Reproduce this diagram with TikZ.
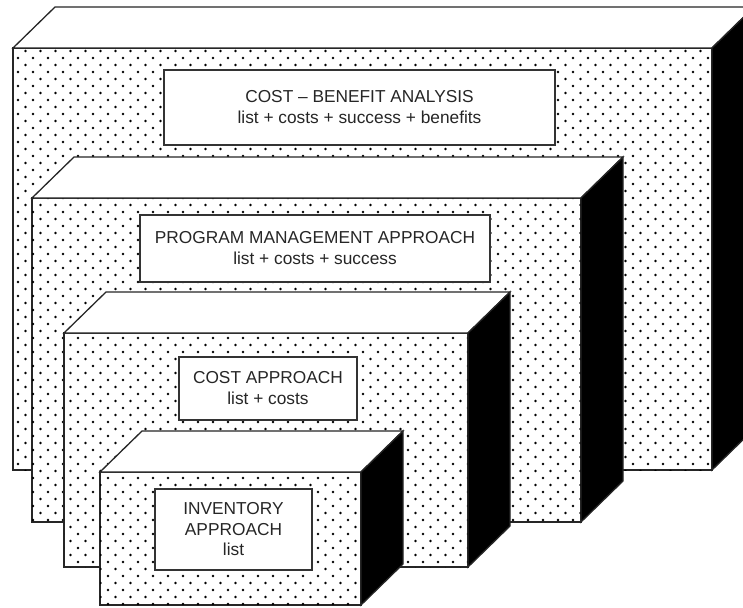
\documentclass[tikz,border=0pt]{standalone}
\usepackage{fontspec}
\setmainfont{Liberation Sans}

\tikzset{
  edge/.style={draw=black!85, line width=1.3pt, line join=miter},
  frontface/.style={rectangle, inner sep=0pt, outer sep=0pt, edge, fill=white},
  topface/.style={edge, fill=white},
  sideface/.style={edge, fill=black},
  screendot/.style={fill=black},
  tag/.style={rectangle, draw=black!80, line width=1.3pt, fill=white,
    inner sep=0pt, align=center, text=black!85,
    font=\fontsize{17.3}{21}\selectfont},
}

% staggered dot screen on a front face: node, first/last row, first/last column
\newcommand\dotscreen[5]{%
  \begin{scope}
    \clip (#1.south west) rectangle (#1.north east);
    \fill[screendot] \foreach \r in {#2,...,#3} {
      \foreach \c in {#4,...,#5} {
        ({\c*15 + mod(\r,2)*7.5 + 3}, {\r*7 + 2}) circle[radius=1.4]
      }
    };
  \end{scope}
}

% top and side faces drawn from the front face node
\newcommand\boxfaces[1]{%
  \path[topface] (#1.north west) -- ++(42,-41)
    -- ([shift={(42,-41)}]#1.north east) -- (#1.north east) -- cycle;
  \path[sideface] (#1.north east) -- ([shift={(42,-41)}]#1.north east)
    -- ([shift={(42,-41)}]#1.south east) -- (#1.south east) -- cycle;
}

\begin{document}
\begin{tikzpicture}[x=1pt, y=-1pt]
  \path[use as bounding box] (0,0) rectangle (743,607);
  \clip (0,0) rectangle (743,607);

  % outermost box
  \node[frontface, minimum width=699pt, minimum height=422pt] (b1) at (362.5,259) {};
  \dotscreen{b1}{6}{67}{0}{48}
  \boxfaces{b1}
  \node[tag, minimum width=391pt, minimum height=75pt] (t1) at (359.5,107.5)
    {COST -- BENEFIT ANALYSIS\\list + costs + success + benefits};

  % second box
  \node[frontface, minimum width=549pt, minimum height=324pt] (b2) at (306.5,360) {};
  \dotscreen{b2}{27}{75}{1}{39}
  \boxfaces{b2}
  \node[tag, minimum width=350pt, minimum height=67pt] (t2) at (315,248.5)
    {PROGRAM MANAGEMENT APPROACH\\list + costs + success};

  % third box
  \node[frontface, minimum width=404pt, minimum height=234pt] (b3) at (266,450) {};
  \dotscreen{b3}{46}{81}{3}{31}
  \boxfaces{b3}
  \node[tag, minimum width=178pt, minimum height=63pt] (t3) at (268,388.5)
    {COST APPROACH\\list + costs};

  % innermost box
  \node[frontface, minimum width=261pt, minimum height=133pt] (b4) at (230.5,538.5) {};
  \dotscreen{b4}{66}{87}{5}{24}
  \boxfaces{b4}
  \node[tag, minimum width=157pt, minimum height=81pt, font=\fontsize{17.3}{20.5}\selectfont]
    (t4) at (233.5,529.5) {INVENTORY\\APPROACH\\list};
\end{tikzpicture}
\end{document}
